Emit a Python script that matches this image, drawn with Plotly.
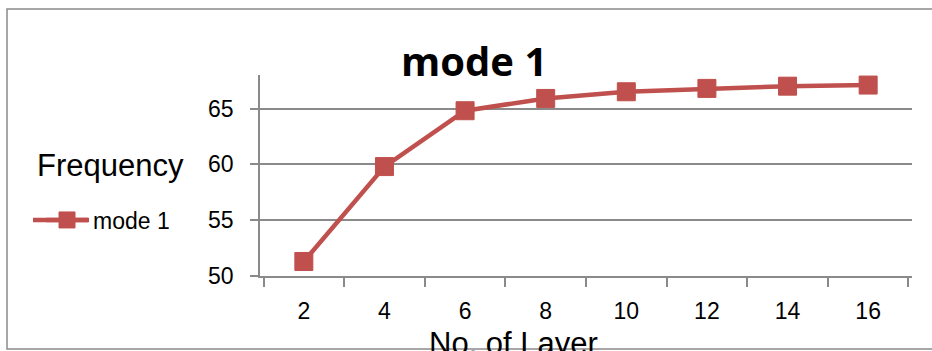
import plotly.graph_objs as go

# data
layers = ['2', '4', '6', '8', '10', '12', '14', '16']
mode1 = [51.3, 59.8, 64.8, 65.9, 66.5, 66.8, 67.0, 67.1]
y_ticks = [50, 55, 60, 65]

W, H = 932, 351
L, R, T, B = 260, 20, 75, 75
pw, ph = W - L - R, H - T - B


def px_x(p):
    return (p - L) / pw


def px_y(p):
    return (H - B - p) / ph


red = '#C0504D'
grey = '#8a8a8a'

fig = go.Figure()
fig.add_trace(go.Scatter(x=layers, y=mode1, name='mode 1', mode='lines+markers',
                         line=dict(color=red, width=4.5),
                         marker=dict(symbol='square', size=18, color=red,
                                     line=dict(color=red, width=1))))

fig.update_layout(
    width=W, height=H,
    margin=dict(l=L, r=R, t=T, b=B),
    paper_bgcolor='white', plot_bgcolor='white',
    font=dict(family='Liberation Sans', color='black'),
    showlegend=True,
    legend=dict(x=px_x(41), y=px_y(220), xanchor='left', yanchor='middle',
                bgcolor='rgba(0,0,0,0)', itemwidth=42,
                font=dict(size=23, family='Liberation Sans')),
    xaxis=dict(type='category', tickson='boundaries', showgrid=False,
               showline=True, linecolor=grey, linewidth=1.5,
               ticks='outside', ticklen=9, tickcolor=grey, tickwidth=1.5,
               tickfont=dict(size=23, family='Liberation Sans'),
               ticklabelstandoff=14),
    yaxis=dict(range=[50, 68], tickvals=y_ticks, showgrid=True,
               gridcolor=grey, gridwidth=1.5, zeroline=False,
               showline=True, linecolor=grey, linewidth=1.5,
               ticks='outside', ticklen=8, tickcolor=grey, tickwidth=1.5,
               tickfont=dict(size=23, family='Liberation Sans'),
               ticklabelstandoff=12),
)

# chart border (right edge cropped in the reference)
fig.add_shape(type='rect', xref='paper', yref='paper',
              x0=px_x(7), x1=px_x(945), y0=px_y(349), y1=px_y(9),
              line=dict(color=grey, width=1.5), layer='below')
# longer legend line like Excel's
fig.add_shape(type='line', xref='paper', yref='paper',
              x0=px_x(33), x1=px_x(89), y0=px_y(220), y1=px_y(220),
              line=dict(color=red, width=4.5))

fig.add_annotation(text='<b>mode 1</b>', xref='paper', yref='paper',
                   x=px_x(474), y=px_y(60), xanchor='center', yanchor='middle',
                   showarrow=False, font=dict(size=40, family='Open Sans'))
fig.add_annotation(text='Frequency', xref='paper', yref='paper',
                   x=px_x(35), y=px_y(165), xanchor='left', yanchor='middle',
                   showarrow=False, font=dict(size=31, family='Liberation Sans'))
fig.add_annotation(text='No. of Layer', xref='paper', yref='paper',
                   x=px_x(513), y=px_y(343), xanchor='center', yanchor='middle',
                   showarrow=False, font=dict(size=31, family='Liberation Sans'))

fig.write_html('out.html', config={'displayModeBar': False},
               post_script="document.body.style.margin='0';")
